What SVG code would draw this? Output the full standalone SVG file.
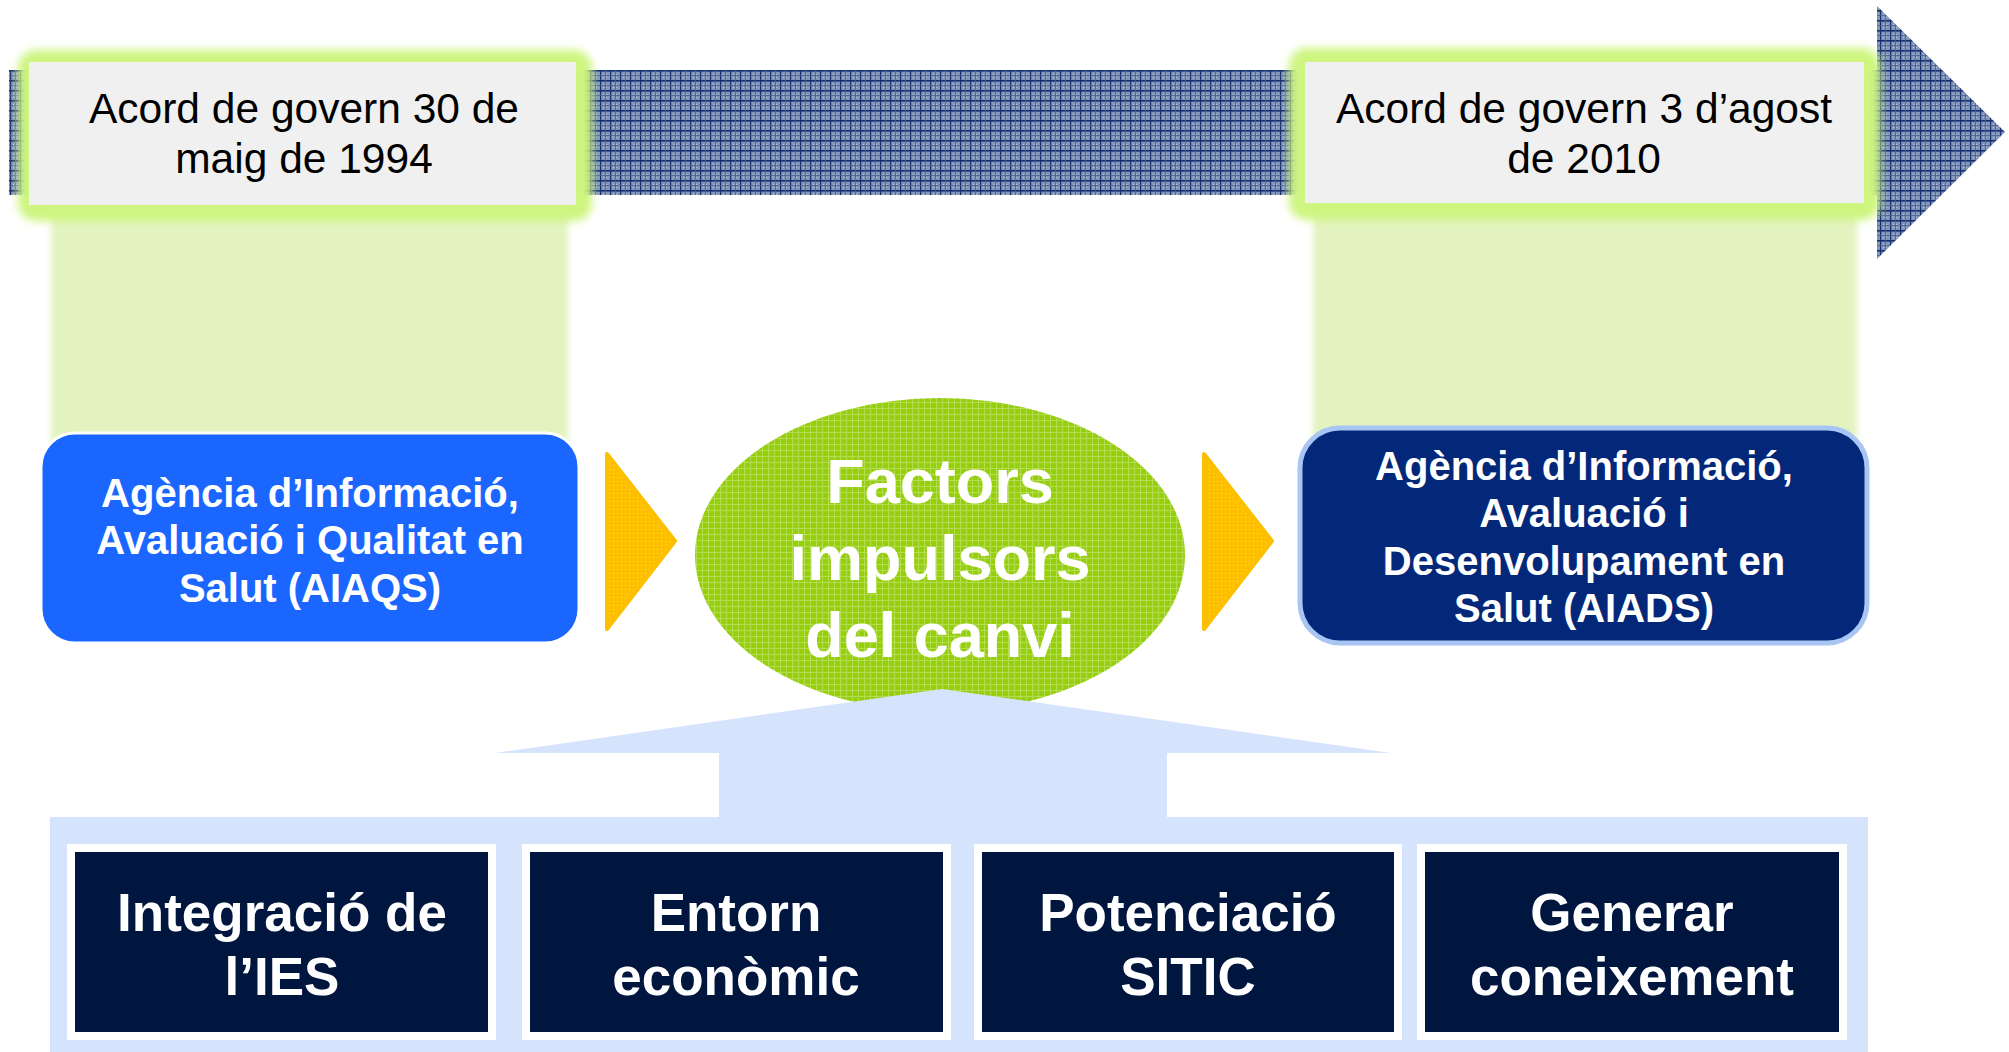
<svg xmlns="http://www.w3.org/2000/svg" width="2009" height="1052" viewBox="0 0 2009 1052">
<defs>
<pattern id="grid" width="10" height="10" patternUnits="userSpaceOnUse">
<rect width="10" height="10" fill="#8395b8"/>
<rect x="0" y="0" width="10" height="1.6" fill="#14306e"/>
<rect x="0" y="0" width="1.2" height="10" fill="#14306e"/>
<rect x="3" y="4" width="1" height="1" fill="#b5c2da"/>
<rect x="6" y="4" width="1" height="1" fill="#b5c2da"/>
<rect x="3" y="7" width="1" height="1" fill="#b5c2da"/>
<rect x="6" y="7" width="1" height="1" fill="#b5c2da"/>
<rect x="5" y="0" width="0.8" height="10" fill="#4a5f8c"/>
<rect x="0" y="5" width="10" height="0.8" fill="#4a5f8c"/>
</pattern>
<pattern id="lime" width="6" height="6" patternUnits="userSpaceOnUse">
<rect width="6" height="6" fill="#97cf0c"/>
<rect x="0" y="0" width="6" height="1" fill="#b3de52"/>
<rect x="0" y="0" width="1" height="6" fill="#b3de52"/>
</pattern>
<pattern id="dots" width="4" height="4" patternUnits="userSpaceOnUse">
<rect width="4" height="4" fill="#fdc000"/>
<rect x="1" y="1" width="1" height="1" fill="#ffd660"/>
</pattern>
<filter id="blur" x="-10%" y="-20%" width="120%" height="140%">
<feGaussianBlur stdDeviation="4"/>
</filter>
<filter id="blur2" x="-10%" y="-10%" width="120%" height="120%">
<feGaussianBlur stdDeviation="3"/>
</filter>
<style>
.date{font-family:"Liberation Sans",Arial,sans-serif;font-size:42.5px;fill:#000;text-anchor:middle}
.agency{font-family:"Liberation Sans",Arial,sans-serif;font-size:40px;font-weight:bold;fill:#fff;text-anchor:middle}
.big{font-family:"Liberation Sans",Arial,sans-serif;font-size:63px;font-weight:bold;fill:#fff;text-anchor:middle}
.factor{font-family:"Liberation Sans",Arial,sans-serif;font-size:53px;font-weight:bold;fill:#fff;text-anchor:middle}
.fbox{fill:#00163f;stroke:#fff;stroke-width:8}
.glow{fill:#cdf57f;filter:url(#blur)}
.card{fill:#f0f0f0}
.col{fill:#e2f3c0;filter:url(#blur2)}
.chev{fill:url(#dots);stroke:#fdc000;stroke-width:4;stroke-linejoin:round}
</style>
</defs>
<rect width="2009" height="1052" fill="#fff"/>

<g id="timeline">
<rect x="9" y="70" width="1868" height="125" fill="url(#grid)"/>
<polygon points="1877,6 2005,132 1877,259" fill="url(#grid)"/>
</g>

<g id="column-1994">
<rect class="col" x="51" y="205" width="517" height="240"/>
</g>
<g id="column-2010">
<rect class="col" x="1313" y="205" width="544" height="235"/>
</g>

<g id="acord-1994">
<rect class="glow" x="18" y="50" width="574" height="171" rx="18"/>
<rect class="card" x="29" y="62" width="547" height="143"/>
<text class="date" x="304" y="123">Acord de govern 30 de</text>
<text class="date" x="304" y="173">maig de 1994</text>
</g>

<g id="acord-2010">
<rect class="glow" x="1289" y="48" width="591" height="172" rx="18"/>
<rect class="card" x="1305" y="62" width="559" height="141"/>
<text class="date" x="1584" y="123">Acord de govern 3 d’agost</text>
<text class="date" x="1584" y="173">de 2010</text>
</g>

<g id="aiaqs">
<rect x="41" y="433" width="538" height="210" rx="34" fill="#1a66ff" stroke="#fff" stroke-width="3"/>
<text class="agency" x="310" y="507">Agència d’Informació,</text>
<text class="agency" x="310" y="554">Avaluació i Qualitat en</text>
<text class="agency" x="310" y="602">Salut (AIAQS)</text>
</g>

<g id="connectors">
<polygon class="chev" points="607,454 675,541 607,629"/>
<polygon class="chev" points="1204,454 1272,541 1204,629"/>
</g>

<g id="aiads">
<rect x="1300" y="428" width="567" height="215" rx="40" fill="#03287a" stroke="#a8c5f3" stroke-width="5"/>
<text class="agency" x="1584" y="480">Agència d’Informació,</text>
<text class="agency" x="1584" y="527">Avaluació i</text>
<text class="agency" x="1584" y="575">Desenvolupament en</text>
<text class="agency" x="1584" y="622">Salut (AIADS)</text>
</g>

<g id="factors">
<ellipse cx="940" cy="555" rx="245" ry="157" fill="url(#lime)"/>
<text class="big" x="940" y="503">Factors</text>
<text class="big" x="940" y="580">impulsors</text>
<text class="big" x="940" y="657">del canvi</text>
</g>

<g id="base">
<polygon points="942,689 1391,753 1167,753 1167,817 1868,817 1868,1052 50,1052 50,817 719,817 719,753 495,753" fill="#d6e3fc"/>
</g>

<g id="integracio">
<rect class="fbox" x="71" y="848" width="421" height="188"/>
<text class="factor" x="282" y="931">Integració de</text>
<text class="factor" x="282" y="995">l’IES</text>
</g>
<g id="entorn">
<rect class="fbox" x="526" y="848" width="421" height="188"/>
<text class="factor" x="736" y="931">Entorn</text>
<text class="factor" x="736" y="995">econòmic</text>
</g>
<g id="sitic">
<rect class="fbox" x="978" y="848" width="420" height="188"/>
<text class="factor" x="1188" y="931">Potenciació</text>
<text class="factor" x="1188" y="995">SITIC</text>
</g>
<g id="coneixement">
<rect class="fbox" x="1421" y="848" width="422" height="188"/>
<text class="factor" x="1632" y="931">Generar</text>
<text class="factor" x="1632" y="995">coneixement</text>
</g>
</svg>
